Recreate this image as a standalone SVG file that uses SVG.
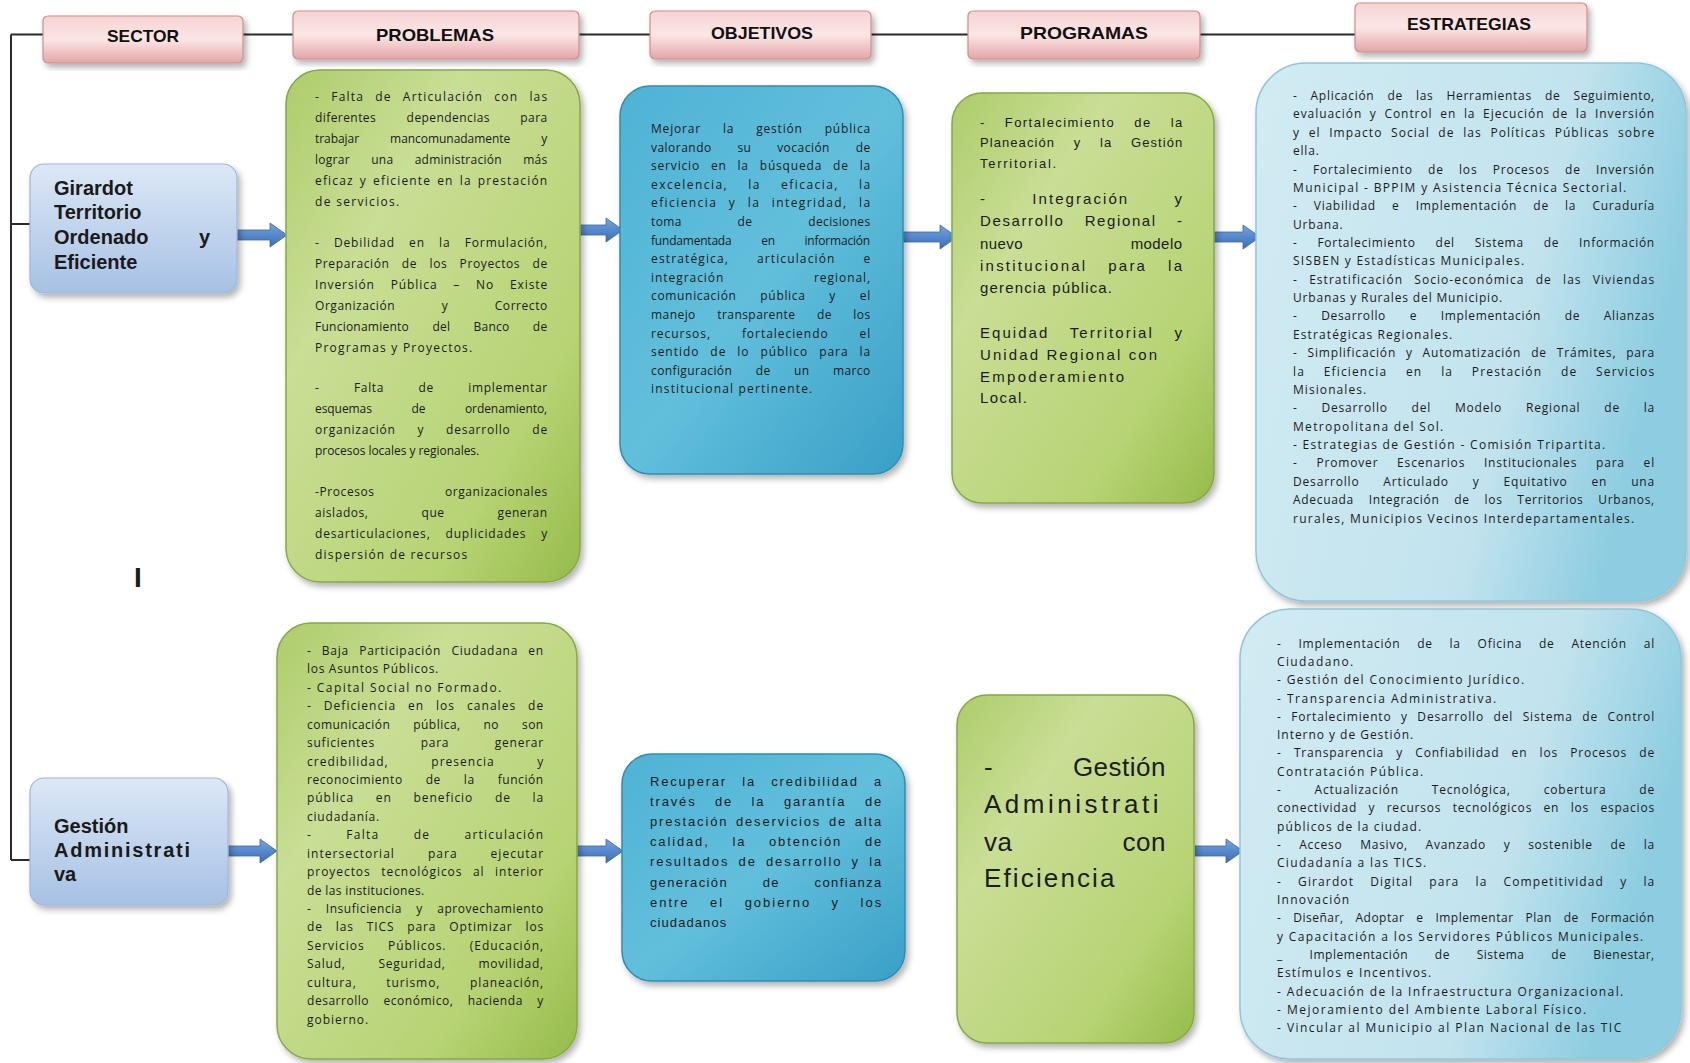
<svg xmlns="http://www.w3.org/2000/svg" width="1690" height="1063" viewBox="0 0 1690 1063">
<style>
.hd{font-family:"Liberation Sans",Arial,sans-serif;font-weight:bold;font-size:17px;fill:#111;text-anchor:middle}
.sec{font-family:"Liberation Sans",Arial,sans-serif;font-weight:bold;font-size:20px;fill:#1a1a1a}
.t{font-family:"Open Sans","Liberation Sans",sans-serif;font-size:12px;letter-spacing:0.8px;fill:#1c1c1c}
.a13{font-family:"Liberation Sans",Arial,sans-serif;font-size:13px;letter-spacing:0.8px;fill:#1c1c1c}
.a15{font-family:"Liberation Sans",Arial,sans-serif;font-size:15px;letter-spacing:1px;fill:#1c1c1c}
.a26{font-family:"Liberation Sans",Arial,sans-serif;font-size:26px;letter-spacing:0.5px;fill:#1c1c1c}
.end{text-anchor:end}
.pink{fill:url(#gPink);stroke:#cf8d8d;stroke-width:1.2;filter:url(#sh)}
.sbox{fill:url(#gSec);stroke:#9db7da;stroke-width:1.2;filter:url(#sh)}
.green{fill:url(#gGreen);stroke:#86a845;stroke-width:1.5;filter:url(#sh)}
.blue{fill:url(#gBlue);stroke:#2f8db3;stroke-width:1.5;filter:url(#sh)}
.lblue{fill:url(#gLBlue);stroke:#8fc6da;stroke-width:1.5;filter:url(#sh)}
.arr{fill:url(#gArr);stroke:#3a65a8;stroke-width:0.8}
.ln{stroke:#2b2b2b;stroke-width:2;fill:none}
</style>
<defs>
<filter id="sh" x="-10%" y="-10%" width="125%" height="125%">
<feDropShadow dx="3" dy="4" stdDeviation="3" flood-color="#000" flood-opacity="0.3"/>
</filter>
<linearGradient id="gPink" x1="0" y1="0" x2="0" y2="1">
<stop offset="0" stop-color="#f6d3d3"/><stop offset="0.5" stop-color="#fbe6e6"/><stop offset="1" stop-color="#e3a5a5"/>
</linearGradient>
<linearGradient id="gSec" x1="0" y1="0" x2="0" y2="1">
<stop offset="0" stop-color="#dce8f6"/><stop offset="1" stop-color="#a7c1e4"/>
</linearGradient>
<linearGradient id="gGreen" x1="0" y1="0" x2="1" y2="1">
<stop offset="0" stop-color="#aecc6a"/><stop offset="0.3" stop-color="#c9de96"/><stop offset="0.75" stop-color="#b7d374"/><stop offset="1" stop-color="#96bb4a"/>
</linearGradient>
<linearGradient id="gBlue" x1="0" y1="0" x2="1" y2="1">
<stop offset="0" stop-color="#4fb2d5"/><stop offset="0.5" stop-color="#62bfdc"/><stop offset="1" stop-color="#3a9fc6"/>
</linearGradient>
<linearGradient id="gLBlue" x1="0" y1="0" x2="1" y2="0.3">
<stop offset="0" stop-color="#d2ebf3"/><stop offset="0.7" stop-color="#c2e3ee"/><stop offset="1" stop-color="#8ecde1"/>
</linearGradient>
<linearGradient id="gArr" x1="0" y1="0" x2="0" y2="1">
<stop offset="0" stop-color="#74a5e2"/><stop offset="1" stop-color="#3c6cb6"/>
</linearGradient>
</defs>

<g id="connectors">
<path class="ln" d="M11 34.5 H1360 M11 34.5 V860 M11 224 H30 M11 860 H30"/>
<path class="arr" d="M237 230 H270 V223 L287 235 L270 247 V240 H237 Z"/>
<path class="arr" d="M569 225 H606 V218 L623 230 L606 242 V235 H569 Z"/>
<path class="arr" d="M903 232 H940 V225 L957 237 L940 249 V242 H903 Z"/>
<path class="arr" d="M1213 232 H1243 V225 L1260 237 L1243 249 V242 H1213 Z"/>
<path class="arr" d="M227 846 H260 V839 L277 851 L260 863 V856 H227 Z"/>
<path class="arr" d="M571 846 H606 V839 L623 851 L606 863 V856 H571 Z"/>
<path class="arr" d="M1195 846 H1226 V839 L1243 851 L1226 863 V856 H1195 Z"/>
</g>

<g id="h-sector"><rect class="pink" x="43" y="16" width="200" height="47" rx="5"/><text class="hd" x="143" y="42" textLength="72" lengthAdjust="spacingAndGlyphs">SECTOR</text></g>
<g id="h-problemas"><rect class="pink" x="293" y="11" width="286" height="48" rx="5"/><text class="hd" x="435" y="41" textLength="118" lengthAdjust="spacingAndGlyphs">PROBLEMAS</text></g>
<g id="h-objetivos"><rect class="pink" x="650" y="11" width="221" height="48" rx="5"/><text class="hd" x="762" y="39" textLength="102" lengthAdjust="spacingAndGlyphs">OBJETIVOS</text></g>
<g id="h-programas"><rect class="pink" x="968" y="11" width="232" height="48" rx="5"/><text class="hd" x="1084" y="39" textLength="128" lengthAdjust="spacingAndGlyphs">PROGRAMAS</text></g>
<g id="h-estrategias"><rect class="pink" x="1355" y="3" width="232" height="49" rx="5"/><text class="hd" x="1469" y="30" textLength="124" lengthAdjust="spacingAndGlyphs">ESTRATEGIAS</text></g>

<g id="s-girardot"><rect class="sbox" x="30" y="164" width="207" height="129" rx="14"/>
<text class="sec" x="54" y="195">Girardot</text>
<text class="sec" x="54" y="219">Territorio</text>
<text class="sec" x="54" y="244">Ordenado</text>
<text class="sec end" x="210" y="244">y</text>
<text class="sec" x="54" y="269">Eficiente</text>
</g>
<g id="s-gestion"><rect class="sbox" x="30" y="778" width="198" height="127" rx="14"/>
<text class="sec" x="54" y="833">Gestión</text>
<text class="sec" x="54" y="857" textLength="136">Administrati</text>
<text class="sec" x="54" y="881">va</text>
</g>

<g id="stray"><text class="sec" x="134" y="587" style="font-size:28px">I</text></g>

<g id="p1"><rect class="green" x="286" y="70" width="294" height="512" rx="34"/>
<text class="t" x="315" y="101" textLength="233" word-spacing="6.9">- Falta de Articulación con las</text>
<text class="t" x="315" y="122" textLength="233" word-spacing="26.9">diferentes dependencias para</text>
<text class="t" x="315" y="143" textLength="233" word-spacing="28">trabajar mancomunadamente y</text>
<text class="t" x="315" y="164" textLength="233" word-spacing="17.9">lograr una administración más</text>
<text class="t" x="315" y="185" textLength="233" word-spacing="1.8">eficaz y eficiente en la prestación</text>
<text class="t" x="315" y="206" textLength="85">de servicios.</text>
<text class="t" x="315" y="247" textLength="233" word-spacing="10.2">- Debilidad en la Formulación,</text>
<text class="t" x="315" y="268" textLength="233" word-spacing="8.6">Preparación de los Proyectos de</text>
<text class="t" x="315" y="289" textLength="233" word-spacing="11.8">Inversión Pública – No Existe</text>
<text class="t" x="315" y="310" textLength="233" word-spacing="42.9">Organización y Correcto</text>
<text class="t" x="315" y="331" textLength="233" word-spacing="20">Funcionamiento del Banco de</text>
<text class="t" x="315" y="352" textLength="158">Programas y Proyectos.</text>
<text class="t" x="315" y="392" textLength="233" word-spacing="30.7">- Falta de implementar</text>
<text class="t" x="315" y="413" textLength="233" word-spacing="36.5">esquemas de ordenamiento,</text>
<text class="t" x="315" y="434" textLength="233" word-spacing="17.9">organización y desarrollo de</text>
<text class="t" x="315" y="455" textLength="165">procesos locales y regionales.</text>
<text class="t" x="315" y="496" textLength="233" word-spacing="66.6">-Procesos organizacionales</text>
<text class="t" x="315" y="517" textLength="233" word-spacing="49.3">aislados, que generan</text>
<text class="t" x="315" y="538" textLength="233" word-spacing="10.9">desarticulaciones, duplicidades y</text>
<text class="t" x="315" y="559" textLength="153">dispersión de recursos</text>
</g>

<g id="o1"><rect class="blue" x="620" y="86" width="283" height="388" rx="30"/>
<text class="t" x="651" y="133" textLength="220" word-spacing="17.9">Mejorar la gestión pública</text>
<text class="t" x="651" y="151.6" textLength="220" word-spacing="22.1">valorando su vocación de</text>
<text class="t" x="651" y="170.2" textLength="220" word-spacing="6.9">servicio en la búsqueda de la</text>
<text class="t" x="651" y="188.8" textLength="220" word-spacing="15.7">excelencia, la eficacia, la</text>
<text class="t" x="651" y="207.4" textLength="220" word-spacing="7">eficiencia y la integridad, la</text>
<text class="t" x="651" y="226" textLength="220" word-spacing="52.4">toma de decisiones</text>
<text class="t" x="651" y="244.6" textLength="220" word-spacing="26.8">fundamentada en información</text>
<text class="t" x="651" y="263.2" textLength="220" word-spacing="23.6">estratégica, articulación e</text>
<text class="t" x="651" y="281.8" textLength="220" word-spacing="85.6">integración regional,</text>
<text class="t" x="651" y="300.4" textLength="220" word-spacing="20">comunicación pública y el</text>
<text class="t" x="651" y="319" textLength="220" word-spacing="17.9">manejo transparente de los</text>
<text class="t" x="651" y="337.6" textLength="220" word-spacing="26.8">recursos, fortaleciendo el</text>
<text class="t" x="651" y="356.2" textLength="220" word-spacing="6.9">sentido de lo público para la</text>
<text class="t" x="651" y="374.8" textLength="220" word-spacing="20">configuración de un marco</text>
<text class="t" x="651" y="393.4" textLength="162">institucional pertinente.</text>
</g>

<g id="g1"><rect class="green" x="952" y="93" width="262" height="410" rx="30"/>
<text class="a13" x="980" y="127" textLength="203" word-spacing="14">- Fortalecimiento de la</text>
<text class="a13" x="980" y="147" textLength="203" word-spacing="14">Planeación y la Gestión</text>
<text class="a13" x="980" y="168" textLength="77">Territorial.</text>
<text class="a15" x="980" y="204" textLength="203" word-spacing="39">- Integración y</text>
<text class="a15" x="980" y="226" textLength="203" word-spacing="14.5">Desarrollo Regional -</text>
<text class="a15" x="980" y="249" textLength="203" word-spacing="103">nuevo modelo</text>
<text class="a15" x="980" y="271" textLength="203" word-spacing="14.5">institucional para la</text>
<text class="a15" x="980" y="293" textLength="133">gerencia pública.</text>
<text class="a15" x="980" y="338" textLength="203" word-spacing="14.5">Equidad Territorial y</text>
<text class="a15" x="980" y="360" textLength="178">Unidad Regional con</text>
<text class="a15" x="980" y="382" textLength="145">Empoderamiento</text>
<text class="a15" x="980" y="403" textLength="48">Local.</text>
</g>

<g id="e1"><rect class="lblue" x="1256" y="63" width="430" height="538" rx="50"/>
<text class="t" x="1293" y="100" textLength="362" word-spacing="9.2">- Aplicación de las Herramientas de Seguimiento,</text>
<text class="t" x="1293" y="118.4" textLength="362" word-spacing="3.6">evaluación y Control en la Ejecución de la Inversión</text>
<text class="t" x="1293" y="136.7" textLength="362" word-spacing="4.4">y el Impacto Social de las Políticas Públicas sobre</text>
<text class="t" x="1293" y="155.1">ella.</text>
<text class="t" x="1293" y="173.5" textLength="362" word-spacing="11.3">- Fortalecimiento de los Procesos de Inversión</text>
<text class="t" x="1293" y="191.9" textLength="334">Municipal - BPPIM y Asistencia Técnica Sectorial.</text>
<text class="t" x="1293" y="210.2" textLength="362" word-spacing="12.3">- Viabilidad e Implementación de la Curaduría</text>
<text class="t" x="1293" y="228.6">Urbana.</text>
<text class="t" x="1293" y="247" textLength="362" word-spacing="16">- Fortalecimiento del Sistema de Información</text>
<text class="t" x="1293" y="265.3" textLength="232">SISBEN y Estadísticas Municipales.</text>
<text class="t" x="1293" y="283.7" textLength="362" word-spacing="7.1">- Estratificación Socio-económica de las Viviendas</text>
<text class="t" x="1293" y="302.1" textLength="210">Urbanas y Rurales del Municipio.</text>
<text class="t" x="1293" y="320.4" textLength="362" word-spacing="19.9">- Desarrollo e Implementación de Alianzas</text>
<text class="t" x="1293" y="338.8" textLength="160">Estratégicas Regionales.</text>
<text class="t" x="1293" y="357.2" textLength="362" word-spacing="5.9">- Simplificación y Automatización de Trámites, para</text>
<text class="t" x="1293" y="375.5" textLength="362" word-spacing="14.5">la Eficiencia en la Prestación de Servicios</text>
<text class="t" x="1293" y="393.9" textLength="74">Misionales.</text>
<text class="t" x="1293" y="412.3" textLength="362" word-spacing="19.8">- Desarrollo del Modelo Regional de la</text>
<text class="t" x="1293" y="430.7" textLength="151">Metropolitana del Sol.</text>
<text class="t" x="1293" y="449" textLength="313">- Estrategias de Gestión - Comisión Tripartita.</text>
<text class="t" x="1293" y="467.4" textLength="362" word-spacing="14.8">- Promover Escenarios Institucionales para el</text>
<text class="t" x="1293" y="485.8" textLength="362" word-spacing="19.9">Desarrollo Articulado y Equitativo en una</text>
<text class="t" x="1293" y="504.1" textLength="362" word-spacing="11">Adecuada Integración de los Territorios Urbanos,</text>
<text class="t" x="1293" y="522.5" textLength="342">rurales, Municipios Vecinos Interdepartamentales.</text>
</g>

<g id="p2"><rect class="green" x="277" y="623" width="300" height="436" rx="34"/>
<text class="t" x="307" y="655" textLength="237" word-spacing="6.4">- Baja Participación Ciudadana en</text>
<text class="t" x="307" y="673.4" textLength="132">los Asuntos Públicos.</text>
<text class="t" x="307" y="691.9" textLength="195">- Capital Social no Formado.</text>
<text class="t" x="307" y="710.3" textLength="237" word-spacing="7.7">- Deficiencia en los canales de</text>
<text class="t" x="307" y="728.7" textLength="237" word-spacing="19.3">comunicación pública, no son</text>
<text class="t" x="307" y="747.2" textLength="237" word-spacing="41.7">suficientes para generar</text>
<text class="t" x="307" y="765.6" textLength="237" word-spacing="38.5">credibilidad, presencia y</text>
<text class="t" x="307" y="784" textLength="237" word-spacing="19.3">reconocimiento de la función</text>
<text class="t" x="307" y="802.4" textLength="237" word-spacing="17.6">pública en beneficio de la</text>
<text class="t" x="307" y="820.9" textLength="73">ciudadanía.</text>
<text class="t" x="307" y="839.3" textLength="237" word-spacing="29.9">- Falta de articulación</text>
<text class="t" x="307" y="857.7" textLength="237" word-spacing="28.9">intersectorial para ejecutar</text>
<text class="t" x="307" y="876.2" textLength="237" word-spacing="6.5">proyectos tecnológicos al interior</text>
<text class="t" x="307" y="894.6" textLength="118">de las instituciones.</text>
<text class="t" x="307" y="913" textLength="237" word-spacing="10.7">- Insuficiencia y aprovechamiento</text>
<text class="t" x="307" y="931.4" textLength="237" word-spacing="9">de las TICS para Optimizar los</text>
<text class="t" x="307" y="949.9" textLength="237" word-spacing="19.3">Servicios Públicos. (Educación,</text>
<text class="t" x="307" y="968.3" textLength="237" word-spacing="28.9">Salud, Seguridad, movilidad,</text>
<text class="t" x="307" y="986.7" textLength="237" word-spacing="25.7">cultura, turismo, planeación,</text>
<text class="t" x="307" y="1005.2" textLength="237" word-spacing="10.7">desarrollo económico, hacienda y</text>
<text class="t" x="307" y="1023.6" textLength="62">gobierno.</text>
</g>

<g id="o2"><rect class="blue" x="622" y="754" width="283" height="227" rx="30"/>
<text class="a13" x="650" y="786" textLength="232" word-spacing="9.8">Recuperar la credibilidad a</text>
<text class="a13" x="650" y="806.1" textLength="232" word-spacing="13">través de la garantía de</text>
<text class="a13" x="650" y="826.2" textLength="232" word-spacing="2.3">prestación deservicios de alta</text>
<text class="a13" x="650" y="846.3" textLength="232" word-spacing="17.3">calidad, la obtención de</text>
<text class="a13" x="650" y="866.4" textLength="232" word-spacing="3.6">resultados de desarrollo y la</text>
<text class="a13" x="650" y="886.5" textLength="232" word-spacing="29.7">generación de confianza</text>
<text class="a13" x="650" y="906.6" textLength="232" word-spacing="14.9">entre el gobierno y los</text>
<text class="a13" x="650" y="926.7" textLength="77">ciudadanos</text>
</g>

<g id="g2"><rect class="green" x="957" y="695" width="237" height="348" rx="30"/>
<text class="a26" x="984" y="776">-</text>
<text class="a26 end" x="1166" y="776">Gestión</text>
<text class="a26" x="984" y="813" textLength="175">Administrati</text>
<text class="a26" x="984" y="851">va</text>
<text class="a26 end" x="1166" y="851">con</text>
<text class="a26" x="984" y="887" textLength="131">Eficiencia</text>
</g>

<g id="e2"><rect class="lblue" x="1240" y="609" width="441" height="450" rx="50"/>
<text class="t" x="1277" y="647.5" textLength="378" word-spacing="12.9">- Implementación de la Oficina de Atención al</text>
<text class="t" x="1277" y="665.8" textLength="77">Ciudadano.</text>
<text class="t" x="1277" y="684.1" textLength="248">- Gestión del Conocimiento Jurídico.</text>
<text class="t" x="1277" y="702.5" textLength="220">- Transparencia Administrativa.</text>
<text class="t" x="1277" y="720.8" textLength="378" word-spacing="5.5">- Fortalecimiento y Desarrollo del Sistema de Control</text>
<text class="t" x="1277" y="739.1" textLength="137">Interno y de Gestión.</text>
<text class="t" x="1277" y="757.4" textLength="378" word-spacing="8.3">- Transparencia y Confiabilidad en los Procesos de</text>
<text class="t" x="1277" y="775.7" textLength="147">Contratación Pública.</text>
<text class="t" x="1277" y="794.1" textLength="378" word-spacing="28.9">- Actualización Tecnológica, cobertura de</text>
<text class="t" x="1277" y="812.4" textLength="378" word-spacing="7.5">conectividad y recursos tecnológicos en los espacios</text>
<text class="t" x="1277" y="830.7" textLength="145">públicos de la ciudad.</text>
<text class="t" x="1277" y="849" textLength="378" word-spacing="13.8">- Acceso Masivo, Avanzado y sostenible de la</text>
<text class="t" x="1277" y="867.3" textLength="150">Ciudadanía a las TICS.</text>
<text class="t" x="1277" y="885.7" textLength="378" word-spacing="11.9">- Girardot Digital para la Competitividad y la</text>
<text class="t" x="1277" y="904" textLength="73">Innovación</text>
<text class="t" x="1277" y="922.3" textLength="378" word-spacing="8.3">- Diseñar, Adoptar e Implementar Plan de Formación</text>
<text class="t" x="1277" y="940.6" textLength="367">y Capacitación a los Servidores Públicos Municipales.</text>
<text class="t" x="1277" y="958.9" textLength="378" word-spacing="23.1">_ Implementación de Sistema de Bienestar,</text>
<text class="t" x="1277" y="977.3" textLength="155">Estímulos e Incentivos.</text>
<text class="t" x="1277" y="995.6" textLength="347">- Adecuación de la Infraestructura Organizacional.</text>
<text class="t" x="1277" y="1013.9" textLength="310">- Mejoramiento del Ambiente Laboral Físico.</text>
<text class="t" x="1277" y="1032.2" textLength="345">- Vincular al Municipio al Plan Nacional de las TIC</text>
</g>
</svg>
